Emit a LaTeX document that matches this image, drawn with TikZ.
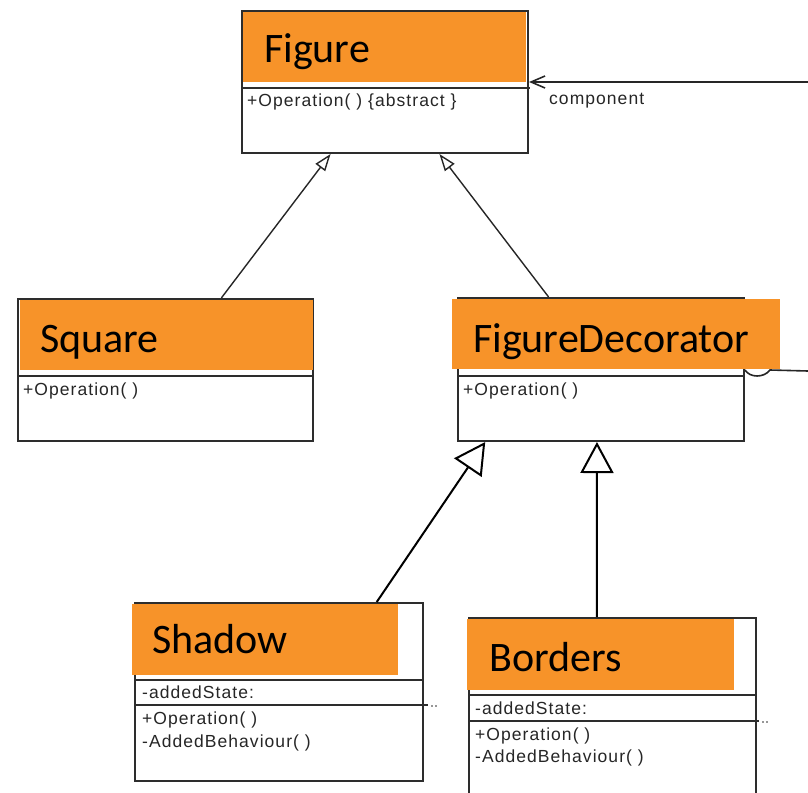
\documentclass[tikz,border=0pt]{standalone}
\usepackage{fontspec}
\setmainfont{Carlito}
\newfontfamily\pxfont[LetterSpace=6]{Liberation Sans}
\usetikzlibrary{arrows.meta,calc}
\definecolor{orng}{RGB}{247,147,41}
\definecolor{boxline}{RGB}{45,45,45}
\tikzset{
  umlbox/.style={draw=boxline, line width=2pt, fill=white, rectangle, inner sep=0pt, anchor=north west},
  head/.style={fill=orng, rectangle, inner sep=0pt, anchor=north west},
  ttl/.style={anchor=base west, inner sep=0pt, font=\fontsize{42}{50}\selectfont},
  mem/.style={anchor=base west, inner sep=0pt, font=\pxfont\fontsize{17.5}{20}\selectfont, text=black!85},
  sep/.style={draw=boxline, line width=1.8pt},
  inhs/.style={draw=black!85, line width=1.4pt, -{Triangle[open, length=17pt, width=12pt]}},
  inhl/.style={draw=black, line width=2pt, -{Triangle[open, length=31pt, width=33pt]}},
  assoc/.style={draw=black!85, line width=1.6pt, -{Straight Barb[length=14pt, width=12pt]}}
}
\begin{document}
\begin{tikzpicture}[x=1pt, y=-1pt]
\useasboundingbox (0,0) rectangle (808,792);
\clip (0,0) rectangle (808,792);
% boxes
\node[umlbox, minimum width=286pt, minimum height=142pt] (figure) at (241,10) {};
\node[umlbox, minimum width=295pt, minimum height=142pt] (square) at (17,298) {};
\node[umlbox, minimum width=286pt, minimum height=143pt] (fd) at (457,297) {};
\node[umlbox, minimum width=288pt, minimum height=178pt] (shadow) at (134,602) {};
\node[umlbox, minimum width=287pt, minimum height=200pt] (borders) at (468,617) {};
% separators
\draw[sep] (241,88) -- (530,88);
\draw[sep] (17,376) -- (314,376);
\draw[sep] (457,376) -- (743,376);
\draw[sep] (134,680) -- (424,680);
\draw[sep] (134,705) -- (428,705);
\draw[sep] (468,695) -- (757,695);
\draw[sep] (468,721) -- (759,721);
\fill[boxline] (432,706) circle (0.9pt) (436,706) circle (0.9pt);
\fill[boxline] (763,722) circle (0.9pt) (767,722) circle (0.9pt);
% headers
\node[head, minimum width=283pt, minimum height=70pt] (figureh) at (243,12) {};
\node[head, minimum width=293pt, minimum height=70pt] (squareh) at (20,300) {};
\node[head, minimum width=328pt, minimum height=70pt] (fdh) at (452,299) {};
\node[head, minimum width=266pt, minimum height=71pt] (shadowh) at (132,604) {};
\node[head, minimum width=267pt, minimum height=71pt] (bordersh) at (467,619) {};
% titles
\node[ttl] (figuret) at (264,63) {Figure};
\node[ttl] (squaret) at (40,352) {Square};
\node[ttl] (fdt) at (473,352) {FigureDecorator};
\node[ttl] (shadowt) at (152,653) {Shadow};
\node[ttl] (borderst) at (489,671) {Borders};
% members
\node[mem] (figm) at (247,106) {+Operation( ) \{abstract \}};
\node[mem] (sqm) at (23,395) {+Operation( )};
\node[mem] (fdm) at (463,395) {+Operation( )};
\node[mem] (sha) at (142,698) {-addedState:};
\node[mem] (shb) at (142,724) {+Operation( )};
\node[mem] (shc) at (142,747) {-AddedBehaviour( )};
\node[mem] (boa) at (475,714) {-addedState:};
\node[mem] (bob) at (475,740) {+Operation( )};
\node[mem] (boc) at (475,762) {-AddedBehaviour( )};
\node[mem, anchor=base west] (comp) at (549,104) {component};
% connectors
\draw[inhs] ($(square.north west)!0.688!(square.north east)$) -- ($(figure.south west)!0.311!(figure.south east)$);
\draw[inhs] ($(fd.north west)!0.318!(fd.north east)$) -- ($(figure.south west)!0.689!(figure.south east)$);
\draw[inhl] ($(shadow.north west)!0.837!(shadow.north east)$) -- ($(fd.south west)!0.098!(fd.south east)$);
\draw[inhl] ($(borders.north west)!0.446!(borders.north east)$) -- ($(fd.south west)!0.486!(fd.south east)$);
\coordinate (compend) at (808,82);
\draw[assoc] (compend) -- (figure.east);
\coordinate (aggend) at (808,371);
\draw[draw=black!85, line width=1.6pt] ([yshift=-73pt]fd.north east) .. controls ++(5,8) and ++(-6,8) .. ++(25,0) -- (aggend);
\end{tikzpicture}
\end{document}
